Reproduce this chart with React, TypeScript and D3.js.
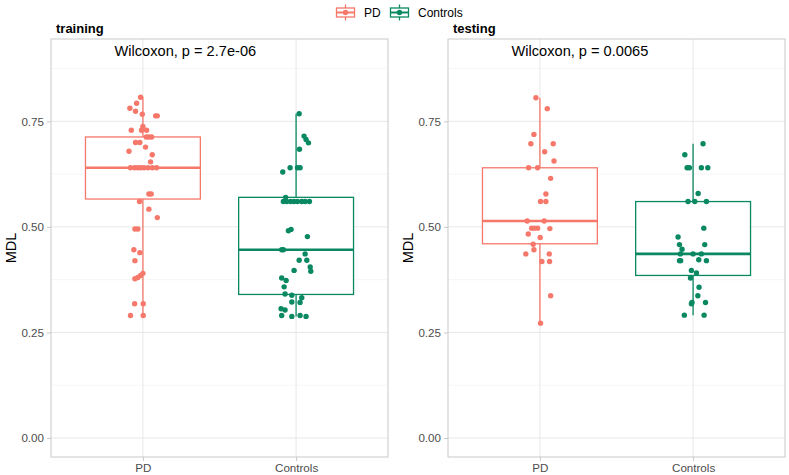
import { useEffect, useRef } from 'react';
import * as d3 from 'd3';

const WIDTH = 789;
const HEIGHT = 475;
const FONT = '"Liberation Sans", Arial, sans-serif';

const GROUPS = ['PD', 'Controls'];
const GROUP_COLORS = ['#F5786B', '#0A8862'];
const PANELS = ['training', 'testing'];
const P_LABELS = ['Wilcoxon, p = 2.7e-06', 'Wilcoxon, p = 0.0065'];
const Y_TICKS = [0, 0.25, 0.5, 0.75];
const Y_MINOR = [0.125, 0.375, 0.625, 0.875];

const trainPDValues = [
  0.807, 0.793, 0.781, 0.774, 0.767, 0.763, 0.763, 0.738, 0.729, 0.729, 0.729, 0.713, 0.713, 0.713,
  0.7, 0.7, 0.689, 0.679, 0.671, 0.654, 0.64, 0.64, 0.64, 0.64, 0.64, 0.64, 0.64, 0.64, 0.578, 0.578,
  0.56, 0.542, 0.522, 0.495, 0.495, 0.446, 0.439, 0.42, 0.39, 0.385, 0.38, 0.377, 0.318, 0.318, 0.29, 0.29,
];
const trainPDJitter = [
  -0.015, -0.041, -0.085, -0.048, -0.004, 0.083, 0.094, 0.0, -0.076, -0.009, 0.024, 0.022, 0.039, 0.057,
  -0.048, -0.02, 0.017, -0.091, 0.061, 0.05, -0.081, -0.054, -0.033, -0.015, 0.007, 0.033, 0.061, 0.089,
  0.039, 0.054, -0.022, 0.039, 0.094, -0.052, -0.033, -0.059, -0.02, -0.052, 0.0, -0.015, -0.033, -0.052,
  -0.054, 0.002, -0.081, 0.002,
];
const trainCtrlValues = [
  0.768, 0.715, 0.707, 0.699, 0.684, 0.64, 0.64, 0.64, 0.63, 0.57, 0.56, 0.56, 0.56, 0.56, 0.56, 0.56,
  0.56, 0.56, 0.494, 0.491, 0.477, 0.446, 0.446, 0.436, 0.421, 0.421, 0.405, 0.397, 0.395, 0.379, 0.373,
  0.358, 0.341, 0.338, 0.332, 0.322, 0.321, 0.306, 0.303, 0.29, 0.288, 0.29, 0.288,
];
const trainCtrlJitter = [
  0.02, 0.052, 0.065, 0.081, 0.022, -0.039, 0.009, 0.026, -0.087, -0.068, -0.083, -0.061, -0.035, -0.013,
  0.009, 0.037, 0.059, 0.087, -0.033, -0.05, 0.074, -0.094, -0.083, 0.059, 0.02, 0.07, 0.092, -0.013,
  0.096, -0.094, -0.065, -0.078, -0.072, -0.028, 0.037, -0.028, 0.026, -0.098, -0.072, -0.094, -0.028,
  0.026, 0.065,
];
const testPDValues = [
  0.806, 0.78, 0.719, 0.697, 0.697, 0.678, 0.656, 0.64, 0.64, 0.615, 0.578, 0.56, 0.56, 0.514, 0.514,
  0.497, 0.497, 0.497, 0.496, 0.483, 0.475, 0.459, 0.446, 0.436, 0.436, 0.418, 0.418, 0.337, 0.272,
];
const testPDJitter = [
  -0.026, 0.048, -0.039, -0.059, 0.087, 0.031, 0.092, -0.074, -0.015, 0.07, 0.039, 0.004, 0.039, -0.083,
  0.028, -0.054, -0.037, -0.015, 0.065, -0.076, 0.002, -0.044, -0.039, -0.092, 0.061, 0.013, 0.063, 0.07,
  0.004,
];
const testCtrlValues = [
  0.697, 0.671, 0.64, 0.64, 0.64, 0.64, 0.579, 0.56, 0.56, 0.56, 0.497, 0.476, 0.458, 0.458, 0.447, 0.436,
  0.436, 0.436, 0.42, 0.42, 0.422, 0.42, 0.397, 0.391, 0.379, 0.357, 0.337, 0.321, 0.318, 0.321, 0.291,
  0.291,
];
const testCtrlJitter = [
  0.065, -0.054, -0.039, -0.024, 0.054, 0.096, 0.033, -0.033, 0.011, 0.087, 0.07, -0.098, -0.089, 0.076,
  -0.072, -0.083, 0.0, 0.054, -0.089, -0.081, 0.037, 0.087, -0.011, 0.022, -0.017, 0.039, 0.031, -0.007,
  -0.011, 0.081, -0.057, 0.072,
];

// box stats: [lower whisker, Q1, median, Q3, upper whisker]
const trainPDBox = [0.29, 0.566, 0.64, 0.713, 0.807];
const trainCtrlBox = [0.288, 0.34, 0.446, 0.57, 0.768];
const testPDBox = [0.272, 0.46, 0.514, 0.64, 0.806];
const testCtrlBox = [0.291, 0.385, 0.436, 0.56, 0.697];

const LABEL_X = 0.815; // in category units (PD = 1)
const LABEL_Y = 0.917;

const panelData = [
  {
    values: [trainPDValues, trainCtrlValues],
    jitter: [trainPDJitter, trainCtrlJitter],
    boxes: [trainPDBox, trainCtrlBox],
  },
  {
    values: [testPDValues, testCtrlValues],
    jitter: [testPDJitter, testCtrlJitter],
    boxes: [testPDBox, testCtrlBox],
  },
];

const PANEL_LEFT = [51, 448];
const PANEL_W = 337;
const PANEL_TOP = 39;
const PANEL_BOTTOM = 457;
const BOX_WIDTH = 0.75;

export default function App() {
  const svgRef = useRef<SVGSVGElement>(null);

  useEffect(() => {
    if (!svgRef.current) return;
    document.body.style.margin = '0';
    const svg = d3.select(svgRef.current);
    svg.selectAll('*').remove();

    const y = d3.scaleLinear().domain([-0.045, 0.945]).range([PANEL_BOTTOM, PANEL_TOP]);

    PANELS.forEach((title, pi) => {
      const left = PANEL_LEFT[pi];
      const x = d3.scalePoint<string>().domain(GROUPS).range([left, left + PANEL_W]).padding(0.6);
      const step = x.step();
      const catX = (c: number) => (x(GROUPS[0]) as number) + (c - 1) * step;
      const g = svg.append('g');

      g.append('rect')
        .attr('x', left)
        .attr('y', PANEL_TOP)
        .attr('width', PANEL_W)
        .attr('height', PANEL_BOTTOM - PANEL_TOP)
        .attr('fill', '#fff');

      // grid
      g.selectAll('.minor')
        .data(Y_MINOR)
        .join('line')
        .attr('x1', left)
        .attr('x2', left + PANEL_W)
        .attr('y1', (d) => y(d))
        .attr('y2', (d) => y(d))
        .attr('stroke', '#f0f0f0')
        .attr('stroke-width', 0.6);
      g.selectAll('.major')
        .data(Y_TICKS)
        .join('line')
        .attr('x1', left)
        .attr('x2', left + PANEL_W)
        .attr('y1', (d) => y(d))
        .attr('y2', (d) => y(d))
        .attr('stroke', '#e4e4e4')
        .attr('stroke-width', 0.9);
      g.selectAll('.vmajor')
        .data(GROUPS)
        .join('line')
        .attr('x1', (d) => x(d) as number)
        .attr('x2', (d) => x(d) as number)
        .attr('y1', PANEL_TOP)
        .attr('y2', PANEL_BOTTOM)
        .attr('stroke', '#e4e4e4')
        .attr('stroke-width', 0.9);

      // boxplots
      const { values, jitter, boxes } = panelData[pi];
      GROUPS.forEach((grp, gi) => {
        const cx = x(grp) as number;
        const bw = BOX_WIDTH * step;
        const [lo, q1, med, q3, hi] = boxes[gi];
        const col = GROUP_COLORS[gi];
        g.append('line')
          .attr('x1', cx).attr('x2', cx)
          .attr('y1', y(hi)).attr('y2', y(q3))
          .attr('stroke', col).attr('stroke-width', 1.3);
        g.append('line')
          .attr('x1', cx).attr('x2', cx)
          .attr('y1', y(q1)).attr('y2', y(lo))
          .attr('stroke', col).attr('stroke-width', 1.3);
        g.append('rect')
          .attr('x', cx - bw / 2)
          .attr('y', y(q3))
          .attr('width', bw)
          .attr('height', y(q1) - y(q3))
          .attr('fill', '#fff')
          .attr('stroke', col)
          .attr('stroke-width', 1.3);
        g.append('line')
          .attr('x1', cx - bw / 2).attr('x2', cx + bw / 2)
          .attr('y1', y(med)).attr('y2', y(med))
          .attr('stroke', col).attr('stroke-width', 2.6);
      });

      // jittered points
      GROUPS.forEach((grp, gi) => {
        const pts = values[gi].map((v, i) => ({ v, j: jitter[gi][i] }));
        g.append('g')
          .selectAll('circle')
          .data(pts)
          .join('circle')
          .attr('cx', (d) => (x(grp) as number) + d.j * step)
          .attr('cy', (d) => y(d.v))
          .attr('r', 2.7)
          .attr('fill', GROUP_COLORS[gi]);
      });

      // border
      g.append('rect')
        .attr('x', left)
        .attr('y', PANEL_TOP)
        .attr('width', PANEL_W)
        .attr('height', PANEL_BOTTOM - PANEL_TOP)
        .attr('fill', 'none')
        .attr('stroke', '#c4c4c4')
        .attr('stroke-width', 0.9);

      // axes
      const yAxis = g.append('g').attr('transform', `translate(${left},0)`).call(
        d3.axisLeft(y).tickValues(Y_TICKS).tickFormat(d3.format('.2f')).tickSize(4).tickPadding(3)
      );
      const xAxis = g.append('g').attr('transform', `translate(0,${PANEL_BOTTOM})`).call(
        d3.axisBottom(x).tickSize(4).tickPadding(3)
      );
      [yAxis, xAxis].forEach((ax) => {
        ax.select('.domain').remove();
        ax.selectAll('line').attr('stroke', '#c4c4c4').attr('stroke-width', 0.9);
        ax.selectAll('text')
          .attr('fill', '#4d4d4d')
          .style('font-family', FONT)
          .style('font-size', '11.6px');
      });

      g.append('text')
        .attr('x', 12)
        .attr('y', 0)
        .attr('transform', `translate(${left - 40},${(PANEL_TOP + PANEL_BOTTOM) / 2}) rotate(-90)`)
        .attr('x', 0)
        .attr('dy', '0.35em')
        .attr('text-anchor', 'middle')
        .attr('fill', '#000')
        .style('font-family', FONT)
        .style('font-size', '14.5px')
        .text('MDL');

      g.append('text')
        .attr('x', left + 5)
        .attr('y', 33)
        .attr('fill', '#000')
        .style('font-family', FONT)
        .style('font-size', '13px')
        .style('font-weight', '700')
        .text(title);

      g.append('text')
        .attr('x', catX(LABEL_X))
        .attr('y', y(LABEL_Y))
        .attr('dy', '0.35em')
        .attr('fill', '#000')
        .style('font-family', FONT)
        .style('font-size', '14.6px')
        .text(P_LABELS[pi]);
    });

    // legend
    const legendX = [345.5, 399.5];
    GROUPS.forEach((grp, gi) => {
      const col = GROUP_COLORS[gi];
      const cx = legendX[gi];
      const cy = 12.5;
      const k = svg.append('g');
      k.append('line').attr('x1', cx).attr('x2', cx).attr('y1', cy - 8).attr('y2', cy + 8)
        .attr('stroke', col).attr('stroke-width', 1.3);
      k.append('rect').attr('x', cx - 9).attr('y', cy - 4.5).attr('width', 18).attr('height', 9)
        .attr('fill', '#fff').attr('stroke', col).attr('stroke-width', 1.3);
      k.append('line').attr('x1', cx - 9).attr('x2', cx + 9).attr('y1', cy).attr('y2', cy)
        .attr('stroke', col).attr('stroke-width', 2);
      k.append('circle').attr('cx', cx).attr('cy', cy).attr('r', 2.7).attr('fill', col);
      k.append('text')
        .attr('x', cx + 18.5)
        .attr('y', cy)
        .attr('dy', '0.35em')
        .attr('fill', '#000')
        .style('font-family', FONT)
        .style('font-size', '12px')
        .text(grp);
    });
  }, []);

  return <svg ref={svgRef} width={WIDTH} height={HEIGHT} style={{ display: 'block', background: '#fff' }} />;
}
